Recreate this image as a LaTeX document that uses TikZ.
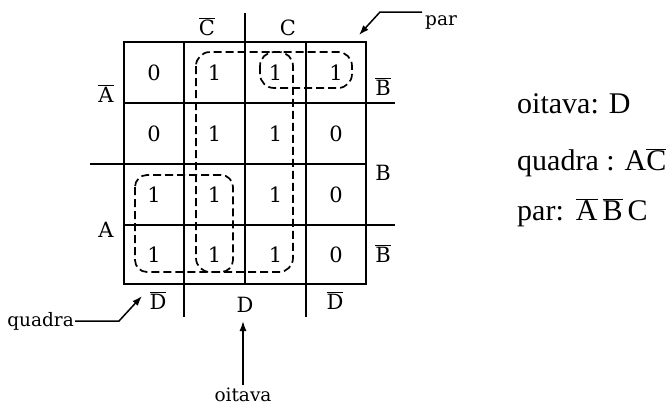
\documentclass[tikz,border=0pt]{standalone}
\usepackage{fontspec}
\setmainfont{DejaVu Serif}
\newfontfamily\timesfont{Liberation Serif}
\usetikzlibrary{arrows.meta}
\newcommand{\ovl}[1]{$\overline{\mbox{#1}}$}

\begin{document}
\begin{tikzpicture}[x=1pt, y=-1pt,
    cellval/.style={font=\fontsize{21}{24}\selectfont},
    sidelabel/.style={font=\fontsize{21}{24}\selectfont, anchor=base, inner sep=0pt},
    tag/.style={font=\fontsize{18.5}{21}\selectfont},
    gridline/.style={line width=1.6pt},
    loopline/.style={line width=1.7pt, dash pattern=on 8pt off 4pt, rounded corners=14pt},
    pointer/.style={line width=1.5pt, -{Latex[length=10pt,width=7pt]}},
    answer/.style={font=\timesfont\fontsize{30}{34}\selectfont, anchor=base west, inner sep=0pt}]
    \useasboundingbox (0,0) rectangle (671,408);

    % Grid lines, some run past the map
    \draw[gridline] (245,13) -- (245,284);
    \draw[gridline] (184,42) -- (184,317);
    \draw[gridline] (306,42) -- (306,317);
    \draw[gridline] (124,103) -- (395,103);
    \draw[gridline] (90,164) -- (366,164);
    \draw[gridline] (124,225) -- (395,225);

    % Outer border
    \draw[line width=2.6pt] (124,42) rectangle (366,284);

    % Cell values
    \node[cellval] (v00) at (154,72.5) {0};
    \node[cellval] (v01) at (214.5,72.5) {1};
    \node[cellval] (v02) at (275.5,72.5) {1};
    \node[cellval] (v03) at (336,72.5) {1};
    \node[cellval] (v10) at (154,133.5) {0};
    \node[cellval] (v11) at (214.5,133.5) {1};
    \node[cellval] (v12) at (275.5,133.5) {1};
    \node[cellval] (v13) at (336,133.5) {0};
    \node[cellval] (v20) at (154,194.5) {1};
    \node[cellval] (v21) at (214.5,194.5) {1};
    \node[cellval] (v22) at (275.5,194.5) {1};
    \node[cellval] (v23) at (336,194.5) {0};
    \node[cellval] (v30) at (154,254.5) {1};
    \node[cellval] (v31) at (214.5,254.5) {1};
    \node[cellval] (v32) at (275.5,254.5) {1};
    \node[cellval] (v33) at (336,254.5) {0};

    % Variable labels
    \node[sidelabel] (cbar) at (207,35) {\ovl{C}};
    \node[sidelabel] (c) at (288,35) {C};
    \node[sidelabel] (abar) at (106,102) {\ovl{A}};
    \node[sidelabel] (a) at (106,237) {A};
    \node[sidelabel] (bbar1) at (383,95) {\ovl{B}};
    \node[sidelabel] (b) at (383,180) {B};
    \node[sidelabel] (bbar2) at (383,262) {\ovl{B}};
    \node[sidelabel] (dbar1) at (158,309) {\ovl{D}};
    \node[sidelabel] (d) at (245,312) {D};
    \node[sidelabel] (dbar2) at (335,309) {\ovl{D}};

    % Groups of ones
    \draw[loopline] (260,52) rectangle (352,88);
    \draw[loopline] (196,52) rectangle (293,272);
    \draw[loopline, rounded corners=12pt] (135,175) rectangle (233,272);

    % Group names with arrows
    \node[tag, anchor=east, inner sep=1pt] (quadra) at (75,321) {quadra};
    \coordinate (quadratip) at (142,296);
    \draw[pointer] (quadra.east) -- ++(44,0) -- (quadratip);

    \node[tag] (oitava) at (243,395) {oitava};
    \coordinate (oitavatip) at (243,321);
    \draw[pointer] (oitava.north) -- (oitavatip);

    \node[tag, anchor=west, inner sep=0pt] (par) at (425,22) {par};
    \coordinate (partip) at (359,35);
    \draw[pointer] (par.west) ++(-3,-10) -- ++(-42,0) -- (partip);

    % Results
    \node[answer] (res1) at (517,113) {oitava: D};
    \node[answer] (res2) at (517,170) {quadra : A\ovl{C}};
    \node[answer] (res3) at (517,220) {par:\hspace{12pt}\ovl{A}\hspace{5pt}\ovl{B}\hspace{5pt}C};
\end{tikzpicture}
\end{document}
